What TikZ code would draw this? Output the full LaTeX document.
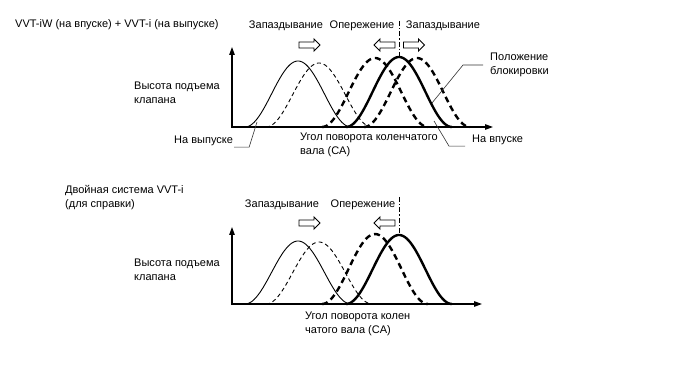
\documentclass[tikz,border=0pt]{standalone}
\usepackage{fontspec}
\setmainfont{Liberation Sans}
\usetikzlibrary{arrows.meta, shapes.arrows, positioning}
\tikzset{
  txt/.style={
    font=\fontsize{11}{14}\selectfont,
    inner sep=1pt, align=left
  },
  axis/.style={
    line width=1.2pt, line join=miter,
    {Triangle[length=8pt,width=5.5pt]}-{Triangle[length=8pt,width=5.5pt]}
  },
  thinsolid/.style={line width=0.9pt},
  thindash/.style={line width=0.9pt, dash pattern=on 4pt off 3pt},
  thicksolid/.style={line width=2.4pt},
  thickdash/.style={line width=2.4pt, dash pattern=on 6pt off 4pt},
  shiftarrow/.style={
    single arrow, draw, line width=0.9pt,
    minimum height=21pt, minimum width=12pt,
    single arrow head extend=3pt, inner sep=2.5pt
  },
  leader/.style={line width=0.6pt, black!80},
  phaseline/.style={line width=0.9pt, dash pattern=on 5pt off 2pt on 1.5pt off 2pt}
}

\begin{document}
\begin{tikzpicture}[x=1pt, y=-1pt]

  \fill[white] (0,0) rectangle (688,366);
  \useasboundingbox (0,0) rectangle (688,366);

  % upper panel: VVT-iW + VVT-i
  \node[txt, anchor=west] (titleA) at (14,25) {VVT-iW (на впуске) + VVT-i (на выпуске)};
  \node[txt] (lagA) at (286,26) {Запаздывание};
  \node[txt] (advA) at (362,26) {Опережение};
  \node[txt] (lagAA) at (443,26) {Запаздывание};

  \node[shiftarrow] (arrA) at (308,45) {};
  \node[shiftarrow, shape border rotate=180] (arrB) at (386,45) {};
  \node[shiftarrow] (arrC) at (412.5,45) {};

  \coordinate (yA) at (232,47);
  \coordinate (origA) at (232,127);
  \coordinate (xA) at (493,127);
  \draw[axis] (yA) -- (origA) -- (xA);

  \foreach \c/\h/\sty in {298/66/thinsolid, 319/64/thindash, 375/69/thickdash, 417/69/thickdash, 399/70/thicksolid}
    \draw[\sty] plot[domain=-53:53, samples=60, smooth] ({\c+\x}, {127-\h*(1+cos(180*\x/53))/2});

  \coordinate (phaseA) at (399,21);
  \coordinate (peakA) at (399,57);
  \draw[phaseline] (phaseA) -- (peakA);

  \node[txt, anchor=west] (liftA) at (133,92.5) {Высота подъема\\клапана};
  \node[txt, anchor=west] (angleA) at (299,144.5) {Угол поворота коленчатого\\вала (CA)};
  \node[txt, anchor=west] (lock) at (489,65) {Положение\\блокировки};
  \node[txt, anchor=west] (exh) at (173,141) {На выпуске};
  \node[txt, anchor=west] (intk) at (471,140) {На впуске};

  % leaders
  \coordinate (exhtip) at (257,122);
  \coordinate (inttip) at (434,121);
  \coordinate (locktip) at (432,103);
  \draw[leader] (exh.south east) -- ++(15,0) -- (exhtip);
  \draw[leader, shorten <=6pt] (intk.south west) -- ++(-22,0) -- (inttip);
  \draw[leader, shorten <=6pt] (lock.west) -- ++(-26,0) -- (locktip);

  % lower panel: dual VVT-i
  \node[txt, anchor=west] (titleB) at (64,198) {Двойная система VVT-i\\(для справки)};
  \node[txt] (lagB) at (282,205) {Запаздывание};
  \node[txt] (advB) at (363,205) {Опережение};

  \node[shiftarrow] (arrD) at (308,223) {};
  \node[shiftarrow, shape border rotate=180] (arrE) at (386,223) {};

  \coordinate (yB) at (232,227);
  \coordinate (origB) at (232,304);
  \coordinate (xB) at (482,304);
  \draw[axis] (yB) -- (origB) -- (xB);

  \foreach \c/\h/\sty in {298/63/thinsolid, 319/62/thindash, 375/70/thickdash, 399/69/thicksolid}
    \draw[\sty] plot[domain=-53:53, samples=60, smooth] ({\c+\x}, {304-\h*(1+cos(180*\x/53))/2});

  \coordinate (phaseB) at (399,197);
  \coordinate (peakB) at (399,235);
  \draw[phaseline] (phaseB) -- (peakB);

  \node[txt, anchor=west] (liftB) at (133,269.5) {Высота подъема\\клапана};
  \node[txt, anchor=west] (angleB) at (304,323.5) {Угол поворота колен\\чатого вала (CA)};

\end{tikzpicture}
\end{document}
